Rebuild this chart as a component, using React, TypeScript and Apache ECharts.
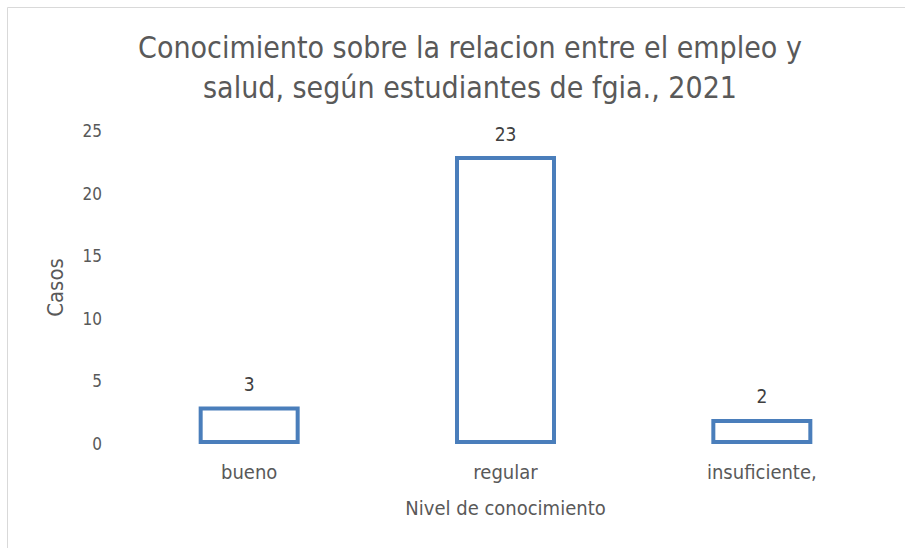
import React, { useEffect, useRef } from "react";
import * as echarts from "echarts";

const categories = ["bueno", "regular", "insuficiente,"];
const casos = [3, 23, 2];
const titleLines = [
  "Conocimiento sobre la relacion entre el empleo y",
  "salud, según estudiantes de fgia., 2021",
];
const yAxisName = "Casos";
const xAxisName = "Nivel de conocimiento";

const FONT = "'Liberation Sans Narrow', 'DejaVu Sans Condensed', sans-serif";
const GRAY = "#595959";

export default function App() {
  const ref = useRef<HTMLDivElement>(null);
  useEffect(() => {
    if (!ref.current) return;
    const chart = echarts.init(ref.current, undefined, { renderer: "svg" });
    chart.setOption({
      animation: false,
      backgroundColor: "#ffffff",
      textStyle: { fontFamily: FONT },
      title: {
        text: titleLines.join("\n"),
        left: 465,
        top: 22,
        textAlign: "center",
        textStyle: {
          fontFamily: FONT,
          fontSize: 30,
          fontWeight: "normal",
          color: GRAY,
          lineHeight: 40,
        },
      },
      graphic: [
        {
          type: "rect",
          shape: { x: 7.5, y: 7.5, width: 1000, height: 1000 },
          style: { fill: "none", stroke: "#d9d9d9", lineWidth: 1 },
          silent: true,
        },
      ],
      grid: { left: 121, right: 15, top: 131, bottom: 104, containLabel: false },
      xAxis: {
        type: "category",
        data: categories,
        axisLine: { show: false },
        axisTick: { show: false },
        axisLabel: { color: GRAY, fontSize: 20, margin: 18, fontFamily: FONT },
        name: xAxisName,
        nameLocation: "middle",
        nameGap: 54,
        nameTextStyle: { color: GRAY, fontSize: 20, fontFamily: FONT, verticalAlign: "top" },
      },
      yAxis: {
        type: "value",
        min: 0,
        max: 25,
        interval: 5,
        axisLine: { show: false },
        axisTick: { show: false },
        splitLine: { show: false },
        axisLabel: { color: GRAY, fontSize: 17, margin: 19, fontFamily: FONT },
        name: yAxisName,
        nameLocation: "middle",
        nameRotate: 90,
        nameGap: 55,
        nameTextStyle: { color: GRAY, fontSize: 22, fontFamily: FONT },
      },
      series: [
        {
          type: "bar",
          data: casos,
          barWidth: 101,
          itemStyle: { color: "#ffffff", borderColor: "#4A7EBB", borderWidth: 4 },
          label: {
            show: true,
            position: "top",
            distance: 13,
            color: "#404040",
            fontSize: 19,
            fontFamily: FONT,
          },
        },
      ],
    });
    return () => chart.dispose();
  }, []);
  return (
    <div
      ref={ref}
      style={{ position: "fixed", left: 0, top: 0, width: 905, height: 548 }}
    />
  );
}
